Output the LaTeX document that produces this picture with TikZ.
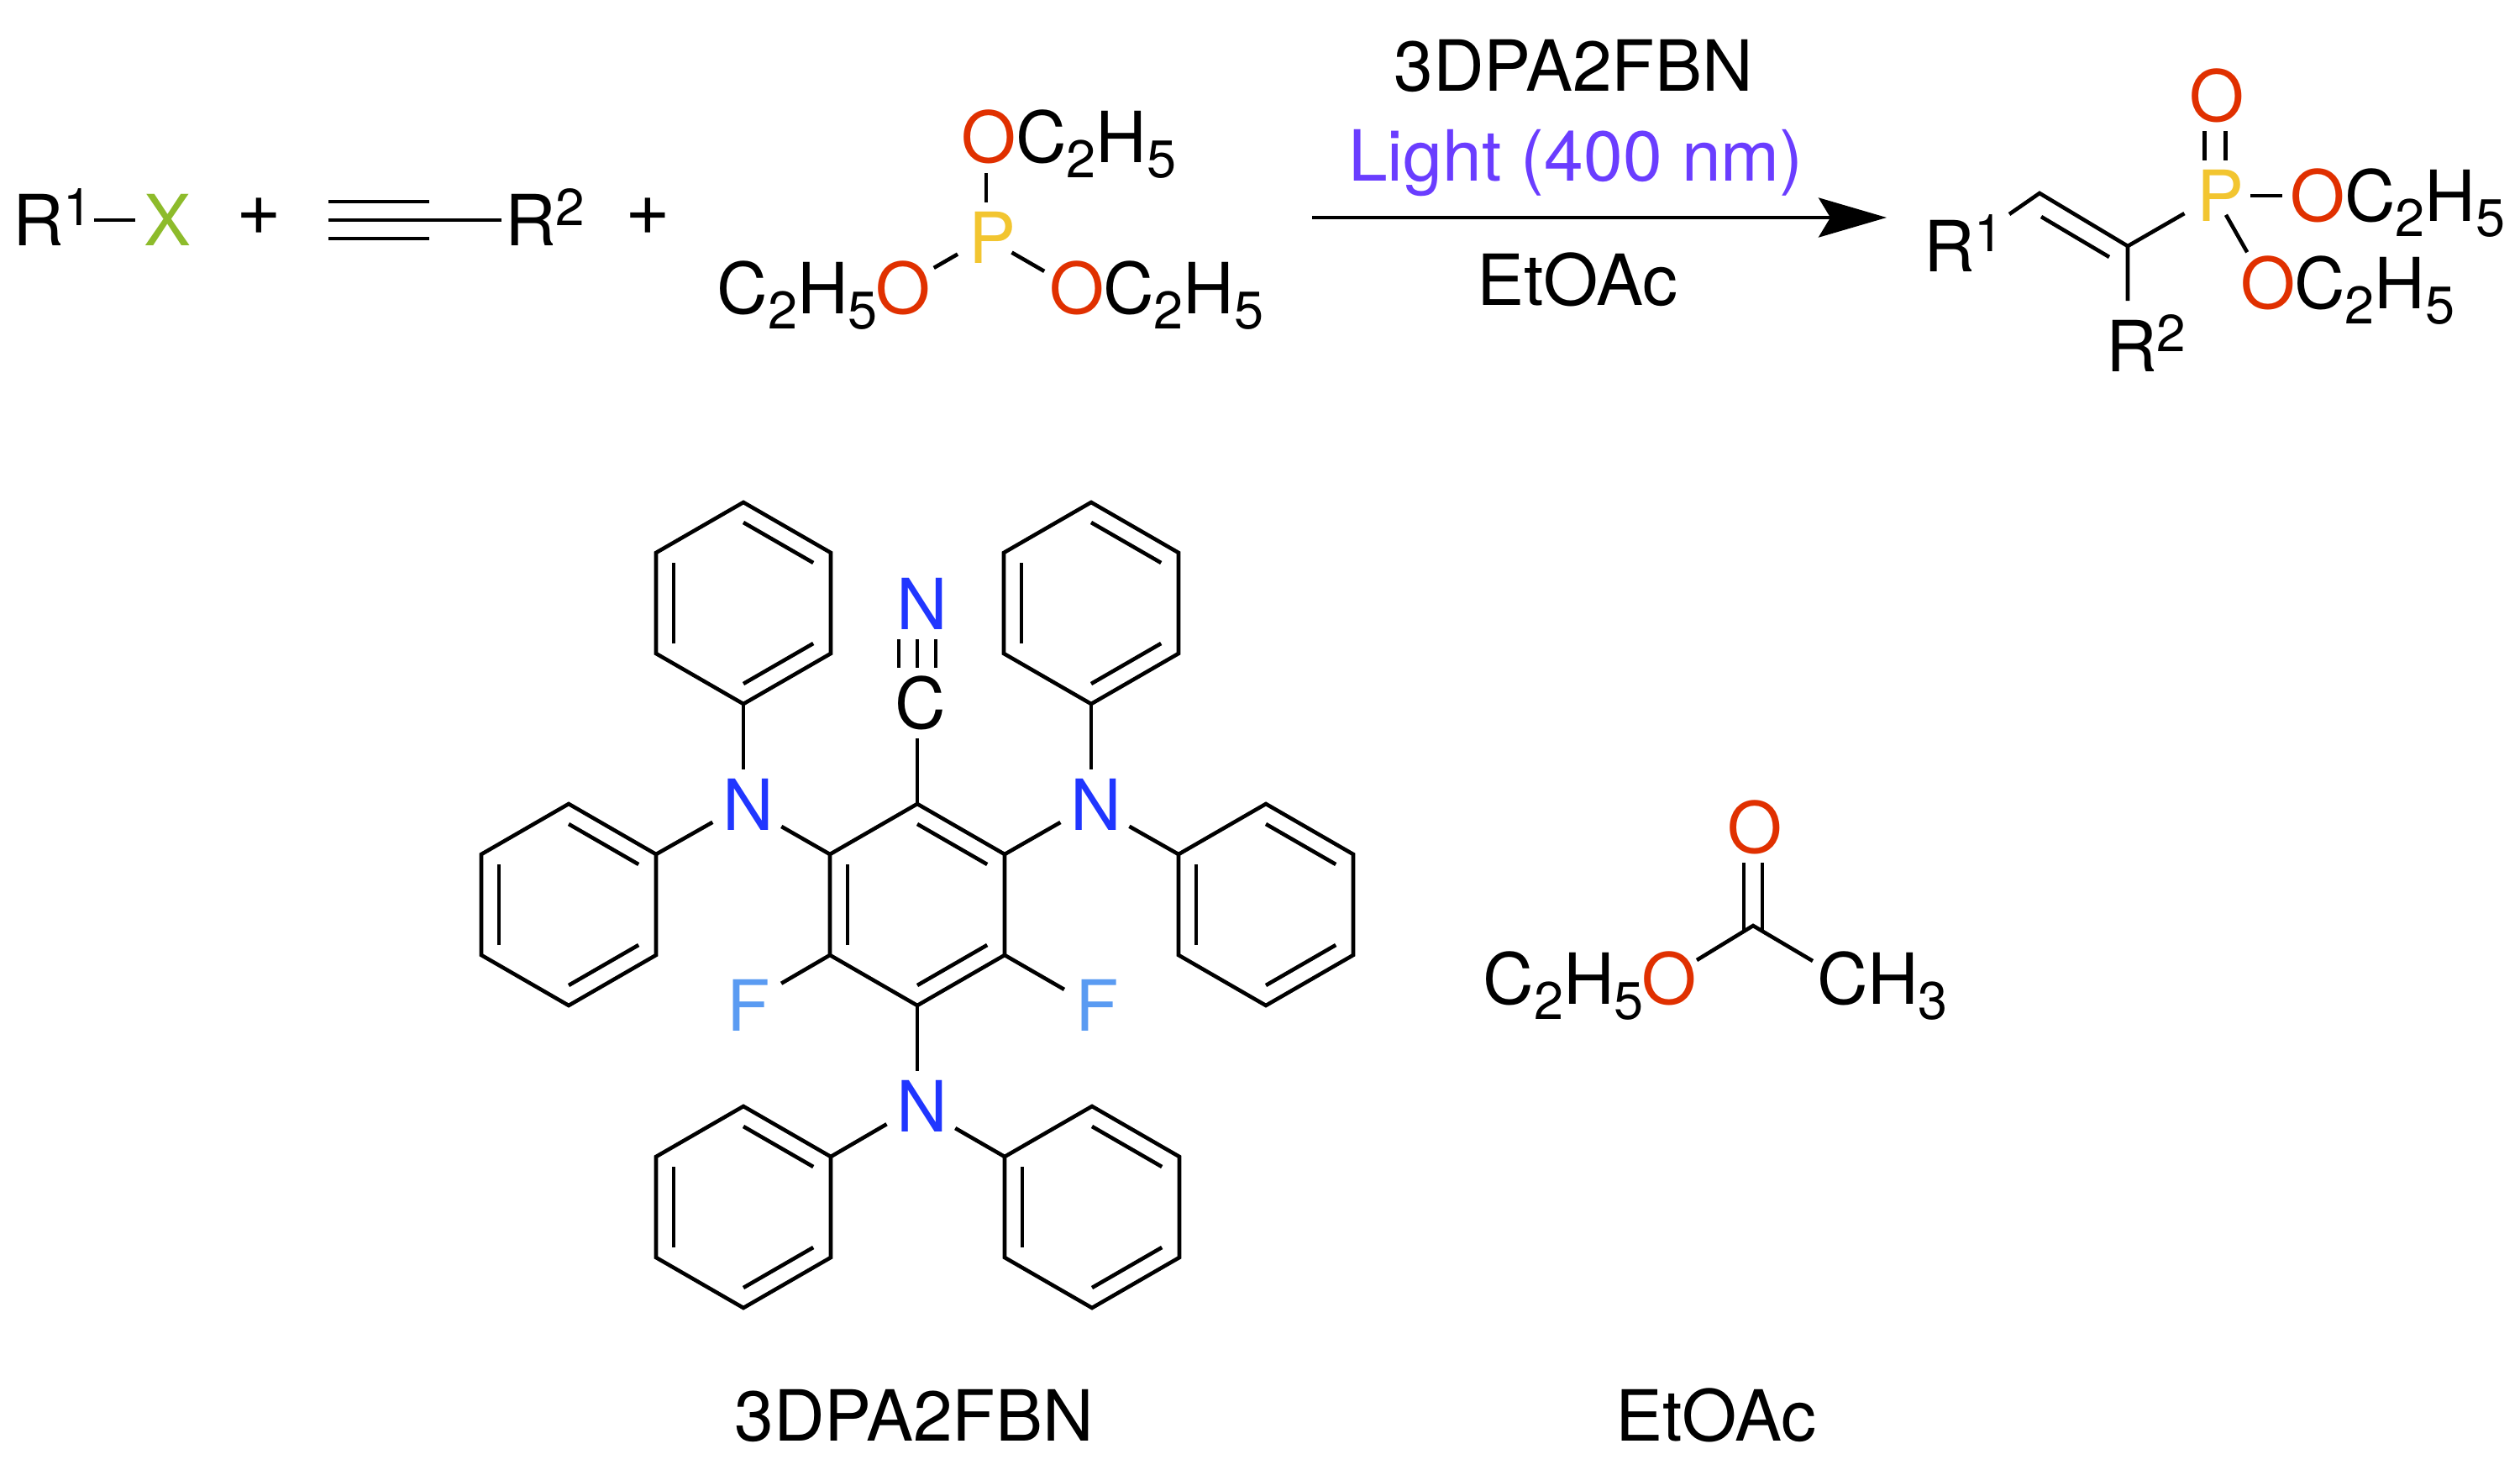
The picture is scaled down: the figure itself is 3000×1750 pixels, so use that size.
\documentclass[tikz,border=0pt]{standalone}
\usepackage{fontspec}
\setmainfont{TeX Gyre Heros}
\usetikzlibrary{arrows.meta,calc}

\definecolor{oxred}{HTML}{E03000}
\definecolor{phyellow}{HTML}{F2C530}
\definecolor{niblue}{HTML}{2036FF}
\definecolor{flblue}{HTML}{5A9BF2}
\definecolor{xgreen}{HTML}{8DBB2B}
\definecolor{lightviolet}{HTML}{6A3DFF}

\tikzset{
    bond/.style={line width=4.6pt},
    atom/.style={circle,inner sep=0pt,minimum size=84pt},
    txt/.style={inner sep=0pt,anchor=base}
}

% atom letter: zero size box, so that the circle stays as it is
\newcommand{\atm}[2]{\makebox[0pt]{\hspace*{#1}\raisebox{-30pt}[0pt][0pt]{#2}}}
\newcommand{\supdg}[1]{\raisebox{24pt}{\fontsize{62}{62}\selectfont #1}}
\newcommand{\subdg}[1]{\raisebox{-18pt}{\fontsize{63}{63}\selectfont #1}}
\newcommand{\ethyl}{C\subdg{2}H\subdg{5}}

% phenyl ring: name, centre x, centre y
\newcommand{\phring}[3]{
    \coordinate (#1o) at (#2,#3);
    \coordinate (#1a) at ($(#1o)+(0,-120)$);
    \coordinate (#1b) at ($(#1o)+(104,-60)$);
    \coordinate (#1c) at ($(#1o)+(104,60)$);
    \coordinate (#1d) at ($(#1o)+(0,120)$);
    \coordinate (#1e) at ($(#1o)+(-104,60)$);
    \coordinate (#1f) at ($(#1o)+(-104,-60)$);
    \draw[bond] (#1a) -- (#1b) -- (#1c) -- (#1d) -- (#1e) -- (#1f) -- cycle;
    \draw[bond] ($(#1o)!.8!(#1a)$) -- ($(#1o)!.8!(#1b)$);
    \draw[bond] ($(#1o)!.8!(#1c)$) -- ($(#1o)!.8!(#1d)$);
    \draw[bond] ($(#1o)!.8!(#1e)$) -- ($(#1o)!.8!(#1f)$);
}

\begin{document}
\begin{tikzpicture}[x=1pt,y=-1pt,every node/.style={font=\fontsize{84}{90}\selectfont}]
    \useasboundingbox (0,0) rectangle (3000,1750);

    % reactants
    \node[txt,anchor=base west] (R1a) at (15,292) {R\supdg{1}};
    \node[atom,text=xgreen] (Xa) at (200,262) {\atm{0pt}{X}};
    \coordinate (dashL) at (112,262);
    \coordinate (dashR) at (161,262);
    \draw[bond] (dashL) -- (dashR);
    \node[txt,anchor=center,font=\fontsize{92}{92}\selectfont] (plusA) at (308,258) {+};

    \coordinate (yneL) at (391,262);
    \coordinate (yneM) at (511,262);
    \coordinate (yneR) at (597,262);
    \draw[bond] (yneL) -- (yneR);
    \draw[bond,transform canvas={yshift=22pt}] (yneL) -- (yneM);
    \draw[bond,transform canvas={yshift=-22pt}] (yneL) -- (yneM);
    \node[txt,anchor=base west] (R2a) at (601,292) {R\supdg{2}};
    \node[txt,anchor=center,font=\fontsize{92}{92}\selectfont] (plusB) at (771,258) {+};

    \node[atom,text=phyellow] (Pa) at (1174,283) {\atm{14pt}{P}};
    \node[atom,text=oxred] (Oa) at (1174,164) {\atm{7pt}{O}};
    \node[atom,text=oxred] (Ob) at (1070,343) {\atm{10pt}{O}};
    \node[atom,text=oxred] (Oc) at (1278,343) {\atm{8pt}{O}};
    \node[txt,anchor=base west] (Ea) at (1209,193) {\ethyl};
    \node[txt,anchor=base east] (Eb) at (1045,373) {\ethyl};
    \node[txt,anchor=base west] (Ec) at (1313,373) {\ethyl};
    \draw[bond] (Pa) -- (Oa);
    \draw[bond,shorten <=-3pt,shorten >=6pt] (Pa) -- (Ob);
    \draw[bond,shorten <=-7pt,shorten >=-2pt] (Pa) -- (Oc);

    % reaction arrow
    \node[txt] (catTop) at (1873,109) {3DPA2FBN};
    \node[txt,text=lightviolet] (lightTop) at (1876,215) {Light (400 nm)};
    \node[txt] (solvBot) at (1878,363) {EtOAc};
    \coordinate (arrowL) at (1562,259);
    \coordinate (arrowR) at (2246,259);
    \draw[line width=4.5pt,-{Stealth[length=81pt,width=47pt,inset=14pt]}] (arrowL) -- (arrowR);

    % product
    \node[txt,anchor=base west] (R1p) at (2290,323) {R\supdg{1}};
    \node[txt,anchor=base west] (R2p) at (2507,442) {R\supdg{2}};
    \coordinate (vinA) at (2428,230);
    \coordinate (vinB) at (2533,293);
    \coordinate (vinAi) at (2430,258);
    \coordinate (vinBi) at (2511,306);
    \coordinate (stubR1) at (2392,255);
    \coordinate (stubR2) at (2533,358);
    \draw[bond] (stubR1) -- (vinA) -- (vinB) -- (stubR2);
    \draw[bond] (vinAi) -- (vinBi);
    \node[atom,text=phyellow] (Pp) at (2637,233) {\atm{13pt}{P}};
    \node[atom,text=oxred] (Op) at (2637,114) {\atm{5pt}{O}};
    \node[atom,text=oxred] (Oq) at (2755,233) {\atm{8pt}{O}};
    \node[atom,text=oxred] (Or) at (2696,337) {\atm{8pt}{O}};
    \node[txt,anchor=base west] (Eq) at (2791,263) {\ethyl};
    \node[txt,anchor=base west] (Er) at (2731,367) {\ethyl};
    \draw[bond] (vinB) -- (Pp);
    \draw[bond,transform canvas={xshift=12.5pt}] (Pp) -- (Op);
    \draw[bond,transform canvas={xshift=-12.5pt}] (Pp) -- (Op);
    \draw[bond,shorten >=-4pt] (Pp) -- (Oq);
    \draw[bond,shorten <=-16pt] (Pp) -- (Or);

    % 3DPA2FBN
    \phring{core}{1092}{1077}
    \phring{phA}{885}{718}
    \phring{phB}{677}{1077}
    \phring{phC}{1299}{718}
    \phring{phD}{1507}{1077}
    \phring{phE}{885}{1437}
    \phring{phF}{1300}{1437}

    \node[atom,text=niblue] (Na) at (885,958) {\atm{12pt}{N}};
    \node[atom,text=niblue] (Nb) at (1299,958) {\atm{12pt}{N}};
    \node[atom,text=niblue] (Nc) at (1092,1317) {\atm{12pt}{N}};
    \node[atom,text=flblue] (Fa) at (885,1197) {\atm{12pt}{F}};
    \node[atom,text=flblue] (Fb) at (1300,1197) {\atm{12pt}{F}};
    \node[atom] (Cn) at (1092,837) {\atm{8pt}{C}};
    \node[atom,text=niblue] (Nn) at (1092,719) {\atm{12pt}{N}};

    \draw[bond] (phAd) -- (Na);
    \draw[bond] (phBb) -- (Na);
    \draw[bond,shorten >=10pt] (coref) -- (Na);
    \draw[bond] (phCd) -- (Nb);
    \draw[bond] (coreb) -- (Nb);
    \draw[bond,shorten >=10pt] (phDf) -- (Nb);
    \draw[bond] (cored) -- (Nc);
    \draw[bond] (phEb) -- (Nc);
    \draw[bond,shorten >=10pt] (phFf) -- (Nc);
    \draw[bond,shorten >=10pt] (coree) -- (Fa);
    \draw[bond,shorten >=-4pt] (corec) -- (Fb);
    \draw[bond] (corea) -- (Cn);
    \draw[bond] (Cn) -- (Nn);
    \draw[bond,transform canvas={xshift=22pt}] (Cn) -- (Nn);
    \draw[bond,transform canvas={xshift=-22pt}] (Cn) -- (Nn);
    \node[txt] (nameA) at (1088,1715) {3DPA2FBN};

    % EtOAc
    \node[atom,text=oxred] (Os) at (2087,985) {\atm{5pt}{O}};
    \node[atom,text=oxred] (Ot) at (1984,1165) {\atm{7pt}{O}};
    \coordinate (Cs) at (2087,1102);
    \coordinate (stubMe) at (2158,1144);
    \draw[bond,transform canvas={xshift=11pt},shorten >=-7pt] (Os) -- (Cs);
    \draw[bond,transform canvas={xshift=-11pt},shorten >=-7pt] (Os) -- (Cs);
    \draw[bond] (Ot) -- (Cs) -- (stubMe);
    \node[txt,anchor=base east] (Es) at (1957,1195) {\ethyl};
    \node[txt,anchor=base west] (Me) at (2163,1195) {CH\subdg{3}};
    \node[txt] (nameB) at (2043,1715) {EtOAc};
\end{tikzpicture}
\end{document}
